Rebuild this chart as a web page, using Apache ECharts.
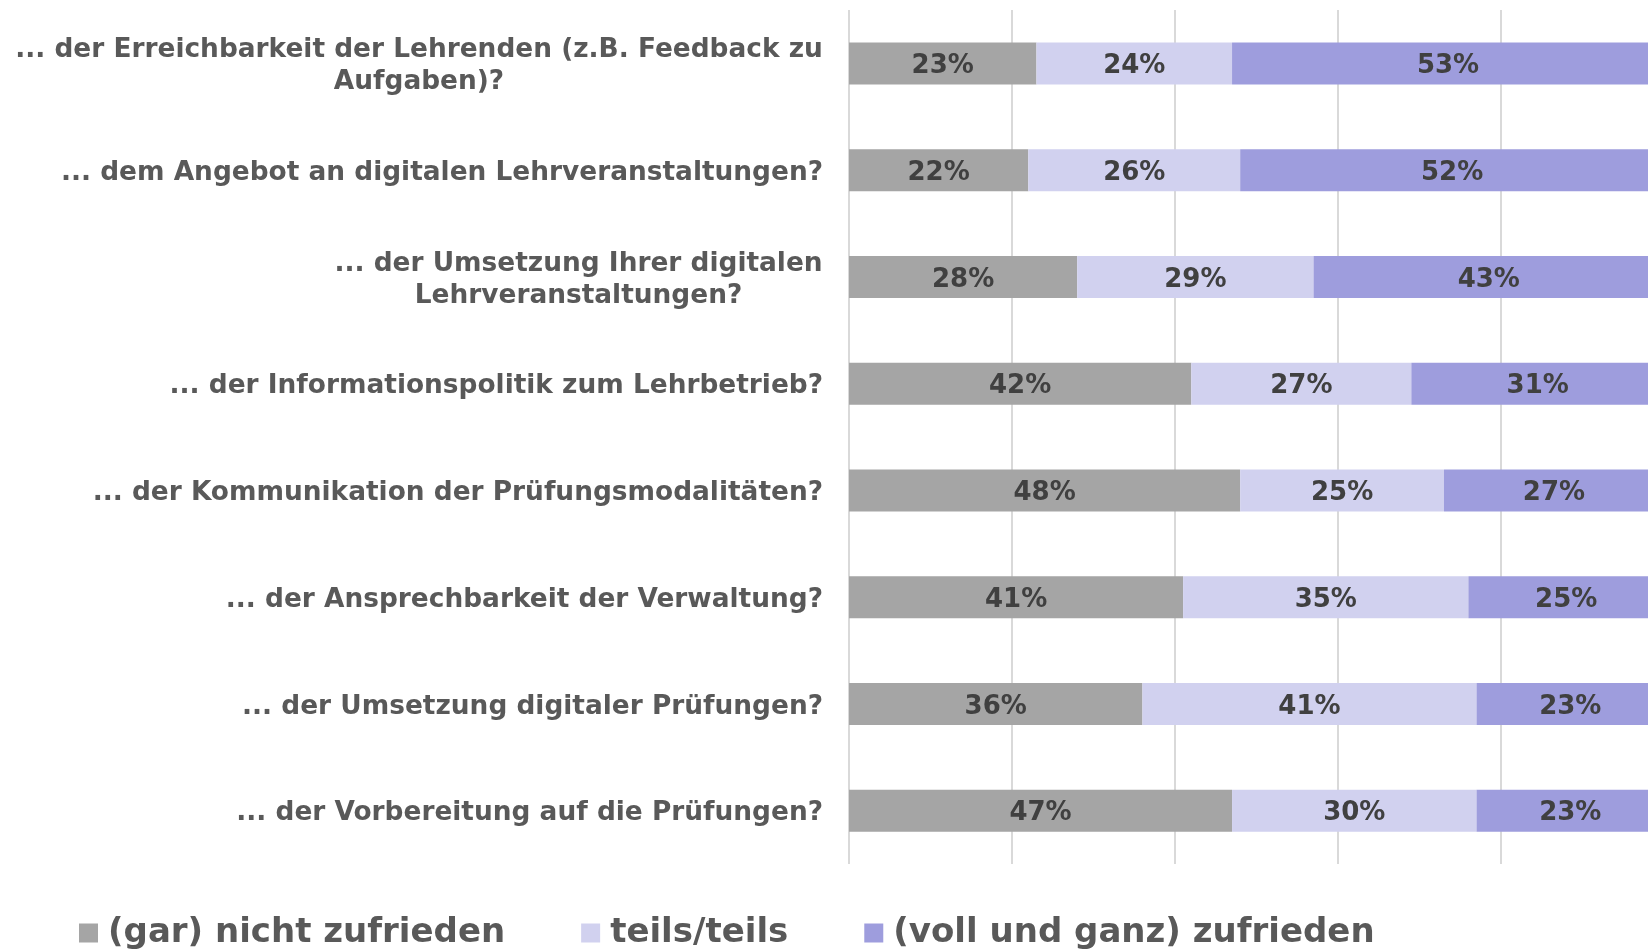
<!DOCTYPE html>
<html><head><meta charset="utf-8">
<script src="https://cdn.jsdelivr.net/npm/echarts@6/dist/echarts.min.js"></script>
<style>html,body{margin:0;padding:0;background:#fff;overflow:hidden;width:1648px;height:949px}#c{width:1665px;height:949px}</style>
</head><body><div id="c"></div>
<script>
const categories = [
  "... der Erreichbarkeit der Lehrenden (z.B. Feedback zu\nAufgaben)?",
  "... dem Angebot an digitalen Lehrveranstaltungen?",
  "... der Umsetzung Ihrer digitalen\nLehrveranstaltungen?",
  "... der Informationspolitik zum Lehrbetrieb?",
  "... der Kommunikation der Prüfungsmodalitäten?",
  "... der Ansprechbarkeit der Verwaltung?",
  "... der Umsetzung digitaler Prüfungen?",
  "... der Vorbereitung auf die Prüfungen?"
];
const seriesNames = ["(gar) nicht zufrieden", "teils/teils", "(voll und ganz) zufrieden"];
const nichtZufrieden = [23, 22, 28, 42, 48, 41, 36, 47];
const teilsTeils = [24, 26, 29, 27, 25, 35, 41, 30];
const zufrieden = [53, 52, 43, 31, 27, 25, 23, 23];
const colors = ["#A5A5A5", "#D1D1EF", "#9E9DDD"];

const FONT = "DejaVu Sans";
const catSize = 26.4;
const cv = document.createElement('canvas').getContext('2d');
cv.font = "bold " + catSize + "px '" + FONT + "'";
const rich = {};
function fmtCat(v) {
  const lines = v.split("\n");
  if (lines.length === 1) return v;
  const w = Math.ceil(Math.max.apply(null, lines.map(l => cv.measureText(l).width)));
  return lines.map(l => "{c" + w + "|" + l + "}").join("\n");
}
categories.forEach(v => {
  const lines = v.split("\n");
  if (lines.length > 1) {
    const w = Math.ceil(Math.max.apply(null, lines.map(l => cv.measureText(l).width)));
    rich["c" + w] = {width: w, align: "center", fontFamily: FONT, fontWeight: "bold", fontSize: catSize, color: "#595959", lineHeight: 32};
  }
});

const chart = echarts.init(document.getElementById('c'));
const data = [nichtZufrieden, teilsTeils, zufrieden];
chart.setOption({
  animation: false,
  textStyle: {fontFamily: FONT},
  grid: {left: 849, top: 10, right: 1, bottom: 85, containLabel: false},
  legend: {
    left: 74, top: 911, itemWidth: 19, itemHeight: 19, itemGap: 76,
    icon: "rect",
    data: seriesNames,
    textStyle: {fontFamily: FONT, fontWeight: "bold", fontSize: 34, color: "#595959", padding: [0, 0, 0, 5]}
  },
  xAxis: {
    type: "value", min: 0, max: 100, interval: 20,
    axisLabel: {show: false}, axisTick: {show: false}, axisLine: {show: false},
    splitLine: {lineStyle: {color: "#D9D9D9", width: 2}}
  },
  yAxis: {
    type: "category", data: categories, inverse: true,
    axisLine: {show: false}, axisTick: {show: false},
    axisLabel: {
      margin: 26, fontFamily: FONT, fontWeight: "bold", fontSize: catSize, color: "#595959", lineHeight: 32,
      padding: [6, 0, 0, 0],
      formatter: fmtCat, rich: rich
    }
  },
  series: seriesNames.map((n, i) => ({
    name: n, type: "bar", stack: "total", barWidth: 42,
    data: data[i],
    itemStyle: {color: colors[i]},
    label: {show: true, position: "inside", offset: [0, 3], formatter: "{c}%", fontFamily: FONT, fontWeight: "bold", fontSize: 26, color: "#404040"}
  }))
});
</script></body></html>
